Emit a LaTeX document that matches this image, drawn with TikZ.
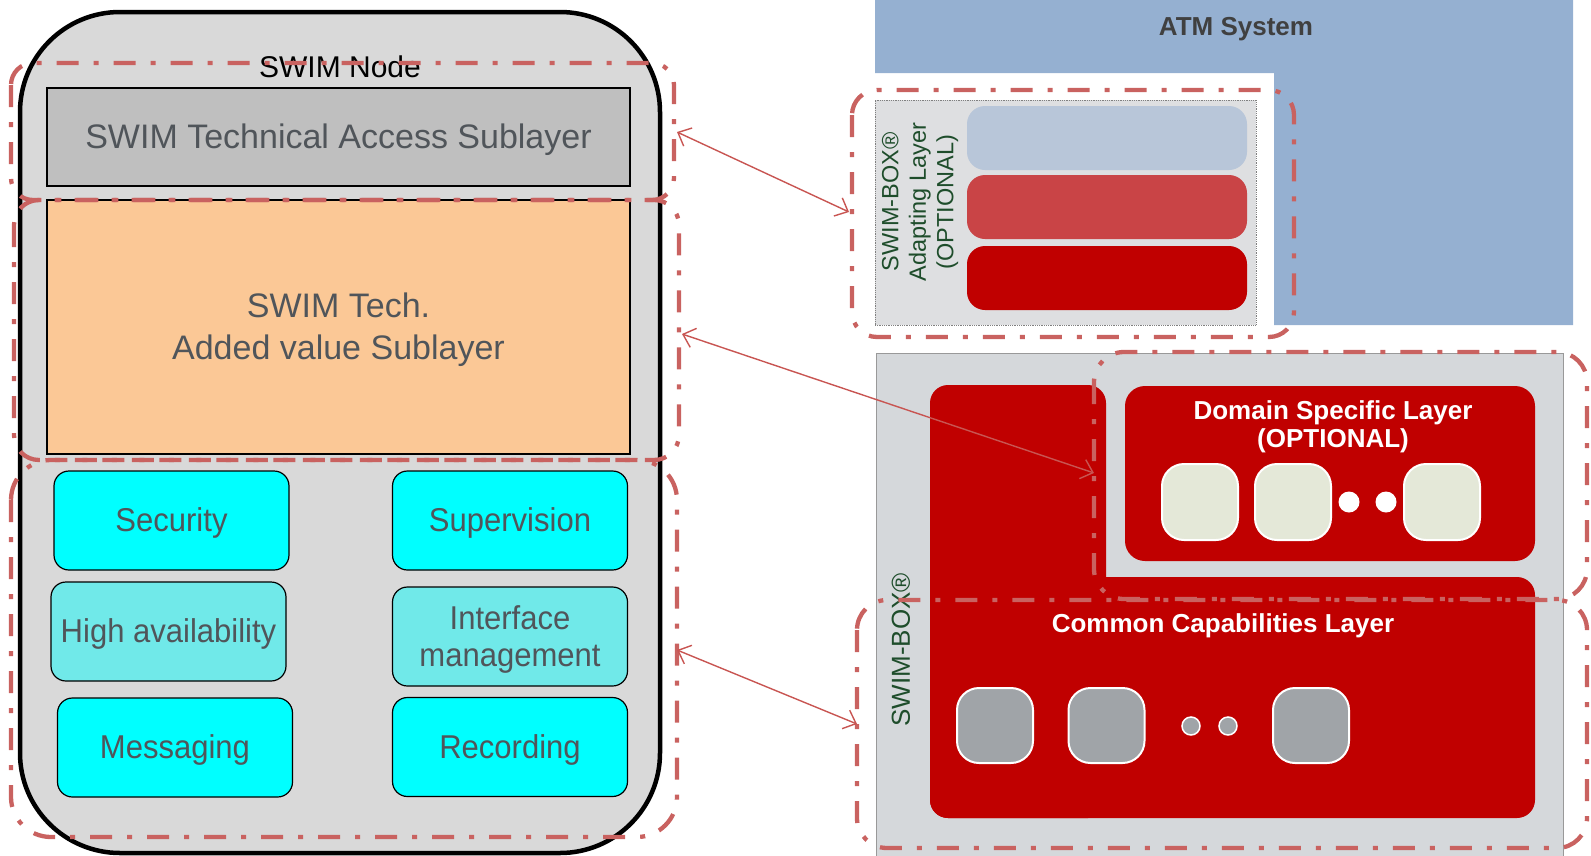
\documentclass[tikz,border=0pt]{standalone}
\usepackage{fontspec}
\setmainfont{Liberation Sans}
\newfontfamily\narrowfont[FakeStretch=0.94]{Liberation Sans}
\usetikzlibrary{arrows.meta}
\definecolor{nodegray}{RGB}{217,217,217}
\definecolor{accgray}{RGB}{191,191,191}
\definecolor{orangefill}{RGB}{251,200,150}
\definecolor{cyanfill}{RGB}{0,255,255}
\definecolor{lcyanfill}{RGB}{112,233,233}
\definecolor{txtgray}{RGB}{80,85,90}
\definecolor{atmblue}{RGB}{149,176,209}
\definecolor{adaptgray}{RGB}{222,223,225}
\definecolor{boxgray}{RGB}{213,216,219}
\definecolor{barblue}{RGB}{184,198,217}
\definecolor{barred}{RGB}{201,68,70}
\definecolor{darkred}{RGB}{192,0,0}
\definecolor{lightbox}{RGB}{228,232,216}
\definecolor{capgray}{RGB}{160,164,168}
\definecolor{greentxt}{RGB}{30,77,43}
\definecolor{dashred}{RGB}{201,98,96}
\definecolor{arrowred}{RGB}{200,85,82}
\definecolor{atmtxt}{RGB}{64,64,64}
\begin{document}
\begin{tikzpicture}[x=1pt,y=-1pt,
  cyanbox/.style={draw=black,line width=1.2pt,rounded corners=15pt,minimum width=235pt,minimum height=99pt,inner sep=0pt},
  boxtext/.style={text=txtgray,align=center,font=\narrowfont\fontsize{33}{37}\selectfont},
  sublayer/.style={draw=black,line width=1.2pt,minimum width=583pt,inner sep=0pt},
  subtext/.style={text=txtgray,align=center,font=\fontsize{34}{42}\selectfont},
  bar/.style={rounded corners=18pt,minimum width=280pt,minimum height=64pt,inner sep=0pt},
  lbox/.style={fill=lightbox,draw=white,line width=2pt,rounded corners=22pt,minimum width=76pt,minimum height=76pt,inner sep=0pt},
  gbox/.style={fill=capgray,draw=white,line width=2pt,rounded corners=22pt,minimum width=76pt,minimum height=75pt,inner sep=0pt},
  whitebold/.style={text=white,align=center,font=\bfseries\fontsize{26}{28}\selectfont},
  greenlbl/.style={text=greentxt,align=center,rotate=90},
  dashrect/.style={draw=dashred,line width=4.3pt,dash pattern=on 22pt off 15pt on 5pt off 15pt},
  conn/.style={draw=arrowred,line width=1.4pt,{Straight Barb[length=11pt,width=20pt]}-{Straight Barb[length=11pt,width=20pt]}}
]
\useasboundingbox (0,0) rectangle (1591,855);

% ---------- SWIM Node ----------
\node[draw=black,line width=4.5pt,fill=nodegray,rounded corners=100pt,minimum width=640pt,minimum height=841pt,inner sep=0pt] (swim) at (340,432.5) {};
\node[font=\fontsize{30}{34}\selectfont] (swimlbl) at (340,67) {SWIM Node};
\node[sublayer,fill=accgray,minimum height=98pt] (acc) at (338.5,137) {};
\node[subtext] (acclbl) at (338.5,140) {SWIM Technical Access Sublayer};
\node[sublayer,fill=orangefill,minimum height=254pt] (avs) at (338.5,327) {};
\node[subtext] (avslbl) at (338.5,330) {SWIM Tech.\\Added value Sublayer};

\node[cyanbox,fill=cyanfill] (sec) at (171.5,520.5) {};
\node[cyanbox,fill=cyanfill] (sup) at (510,520.5) {};
\node[cyanbox,fill=lcyanfill] (ha) at (168.5,631.5) {};
\node[cyanbox,fill=lcyanfill] (im) at (510,636.5) {};
\node[cyanbox,fill=cyanfill] (msg) at (175,747.5) {};
\node[cyanbox,fill=cyanfill] (rec) at (510,747) {};
\node[boxtext] (seclbl) at (171.5,523) {Security};
\node[boxtext] (suplbl) at (510,523) {Supervision};
\node[boxtext] (halbl) at (168.5,634) {High availability};
\node[boxtext] (imlbl) at (510,639.5) {Interface\\management};
\node[boxtext] (msglbl) at (175,750) {Messaging};
\node[boxtext] (reclbl) at (510,749.5) {Recording};

% ---------- ATM System ----------
\fill[atmblue] (875,0) -- (1573,0) -- (1573,325) -- (1274,325) -- (1274,73) -- (875,73) -- cycle;
\node[text=atmtxt,font=\bfseries\fontsize{26}{30}\selectfont] (atm) at (1236,29) {ATM System};

\node[fill=adaptgray,draw=gray,line width=0.8pt,densely dotted,minimum width=381pt,minimum height=225pt,inner sep=0pt] (adapt) at (1065.5,212.5) {};
\node[bar,fill=barblue] (bar1) at (1107,138) {};
\node[bar,fill=barred] (bar2) at (1107,207) {};
\node[bar,fill=darkred] (bar3) at (1107,278) {};
\node[greenlbl,font=\fontsize{23.5}{27.5}\selectfont] (adaptlbl) at (920,202) {SWIM-BOX®\\Adapting Layer\\(OPTIONAL)};

% ---------- SWIM-BOX ----------
\fill[boxgray] (876,353) rectangle (1563,860);
\draw[gray!80,line width=1pt] (876,860) -- (876,353) -- (1563,353) -- (1563,860);
\fill[darkred,rounded corners=18pt] (930,385) rectangle (1106,818);
\fill[darkred,rounded corners=18pt] (930,577) rectangle (1535,818);
\node[fill=darkred,rounded corners=20pt,minimum width=410pt,minimum height=175pt,inner sep=0pt] (dom) at (1330,473.5) {};
\node[whitebold] (domlbl) at (1333,427) {Domain Specific Layer\\(OPTIONAL)};
\node[lbox] (d1) at (1200,502) {};
\node[lbox] (d2) at (1293,502) {};
\node[lbox] (d3) at (1442,502) {};
\fill[white] (1349,502) circle (10.5);
\fill[white] (1386,502) circle (10.5);

\node[whitebold] (comlbl) at (1223,626) {Common Capabilities Layer};
\node[gbox] (c1) at (995,725.5) {};
\node[gbox] (c2) at (1106.5,725.5) {};
\node[gbox] (c3) at (1311,725.5) {};
\filldraw[fill=capgray,draw=white,line width=1.5pt] (1191,726) circle (9);
\filldraw[fill=capgray,draw=white,line width=1.5pt] (1228,726) circle (9);
\node[greenlbl,font=\fontsize{26}{30}\selectfont] (boxlbl) at (901,650) {SWIM-BOX®};

% ---------- dash-dot groupings ----------
\draw[dashrect,rounded corners=22pt] (11,63) rectangle (674,200);
\draw[dashrect,rounded corners=25pt] (14,200) rectangle (679,460);
\draw[dashrect,rounded corners=40pt] (11,460) rectangle (677,837);
\draw[dashrect,rounded corners=25pt] (852,90) rectangle (1294,337);
\draw[dashrect,rounded corners=30pt] (1094,352) rectangle (1587,599);
\draw[dashrect,rounded corners=30pt] (857,600) rectangle (1587,848);

% ---------- connectors ----------
\coordinate (a1s) at (677,132);
\coordinate (a1e) at (849,212);
\coordinate (a2s) at (682,334);
\coordinate (a2e) at (1094,473);
\coordinate (a3s) at (677,650);
\coordinate (a3e) at (857,724);
\draw[conn] (a1s) -- (a1e);
\draw[conn] (a2s) -- (a2e);
\draw[conn] (a3s) -- (a3e);
\end{tikzpicture}
\end{document}
